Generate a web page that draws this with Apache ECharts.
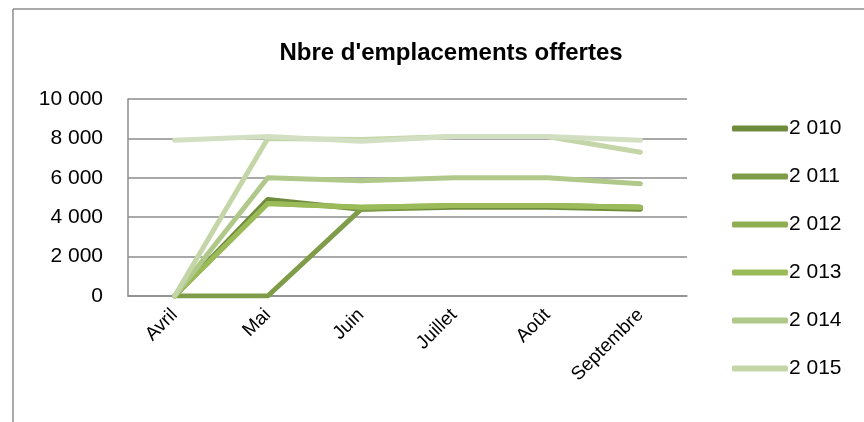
<!DOCTYPE html>
<html lang="fr">
<head>
    <meta charset="UTF-8">
    <title>Nbre d'emplacements offertes</title>
    <script src="https://cdn.jsdelivr.net/npm/echarts@6/dist/echarts.min.js"></script>
    <style>
        body{ margin: 0; background: #fff; }
        #chart{ width: 864px; height: 422px; }
    </style>
</head>
<body>
<div id="chart"></div>
<script>
    // mois de la saison
    var mois = ['Avril', 'Mai', 'Juin', 'Juillet', 'Août', 'Septembre'];
    var annees = ['2 010', '2 011', '2 012', '2 013', '2 014', '2 015'];
    var couleurs = ['#6f8b3c', '#7f9d48', '#8fae52', '#9bbb59', '#b0c98a', '#c4d6a8', '#d3dfc3'];

    var v2010 = [0, 4900, 4400, 4500, 4500, 4400];
    var v2011 = [0, 0, 4400, 4600, 4600, 4500];
    var v2012 = [0, 4700, 4500, 4600, 4600, 4500];
    var v2013 = [0, 4700, 4500, 4600, 4600, 4500];
    var v2014 = [0, 6000, 5850, 6000, 6000, 5700];
    var v2015 = [0, 8000, 7950, 8100, 8100, 7300];
    // serie sans entree de legende visible
    var vAutre = [7900, 8100, 7850, 8100, 8100, 7900];

    var valeurs = [v2010, v2011, v2012, v2013, v2014, v2015, vAutre];
    var noms = annees.concat(['autre']);

    function espace(v){
        return String(v).replace(/\B(?=(\d{3})+(?!\d))/g, ' ');
    }

    var series = valeurs.map(function(d, i){
        return {
            name: noms[i],
            type: 'line',
            data: d,
            symbol: 'none',
            z: 2 + i,
            lineStyle: { width: 5, color: couleurs[i], cap: 'round', join: 'round' },
            itemStyle: { color: couleurs[i] }
        };
    });

    var myChart = echarts.init(document.getElementById('chart'));
    myChart.setOption({
        animation: false,
        title: {
            text: "Nbre d'emplacements offertes",
            left: 446,
            top: 36,
            textAlign: 'center',
            textStyle: { fontFamily: 'Liberation Sans', fontSize: 24, fontWeight: 'bold', color: '#000' }
        },
        graphic: [
            { type: 'line', shape: { x1: 13, y1: 9, x2: 864, y2: 9 }, style: { stroke: '#8c8c8c', lineWidth: 1.5 } },
            { type: 'line', shape: { x1: 13, y1: 9, x2: 13, y2: 422 }, style: { stroke: '#8c8c8c', lineWidth: 1.5 } }
        ],
        legend: {
            data: annees,
            orient: 'vertical',
            left: 727,
            top: 113,
            itemWidth: 56,
            itemHeight: 6,
            itemGap: 27,
            icon: 'roundRect',
            textStyle: { fontFamily: 'Liberation Sans', fontSize: 21, color: '#000', padding: [0, 0, 0, -4] }
        },
        grid: { left: 128, right: 177, top: 99, bottom: 126 },
        xAxis: {
            type: 'category',
            data: mois,
            boundaryGap: true,
            axisLine: { lineStyle: { color: '#8c8c8c', width: 1.5 } },
            axisTick: { show: false },
            axisLabel: { rotate: 45, margin: 16, interval: 0, fontFamily: 'Liberation Sans', fontSize: 19, color: '#000' }
        },
        yAxis: {
            type: 'value',
            min: 0,
            max: 10000,
            interval: 2000,
            axisLine: { show: true, lineStyle: { color: '#8c8c8c', width: 1.5 } },
            axisTick: { show: false },
            splitLine: { lineStyle: { color: '#8c8c8c', width: 1.5 } },
            axisLabel: { margin: 25, fontFamily: 'Liberation Sans', fontSize: 21, color: '#000', formatter: espace }
        },
        series: series
    });
</script>
</body>
</html>
